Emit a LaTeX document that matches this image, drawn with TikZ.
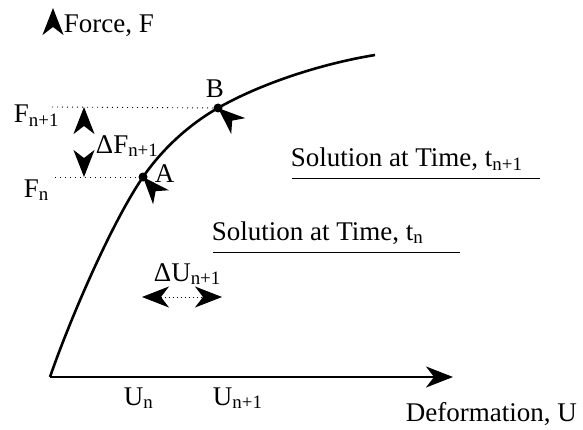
\documentclass[tikz,border=0pt]{standalone}
\usepackage{fontspec}
\setmainfont{Liberation Serif}
\usepackage{tikz}
\usetikzlibrary{arrows.meta}

\tikzset{
  lbl/.style={anchor=base west,inner sep=0pt},
  guide/.style={line width=.9pt,dash pattern=on 1pt off 4pt},
  tiponly/.style={dash pattern=on 0pt off 300pt},
}

\begin{document}
\begin{tikzpicture}[x=1pt,y=1pt,line width=1.8pt,font=\fontsize{27}{30}\selectfont,
  >={Stealth[length=27pt,width=21pt,inset=8pt]}]
\useasboundingbox (0,0) rectangle (583,429);
% points
\coordinate (O) at (50,52);
\coordinate (xend) at (453,52);
\coordinate (A) at (143,252);
\coordinate (B) at (218,321);
\coordinate (E) at (375,374);
% axes
\draw[->] (O)--(xend);
\coordinate (ytail) at (53,394);
\coordinate (ytip) at (53,421);
\draw[->,tiponly] (ytail)--(ytip);
% load-deformation curve
\draw[line width=2.6pt] (O)..controls (70,110) and (112,207)..(A)
  ..controls (163,281) and (190,305)..(B)
  ..controls (260,345) and (320,365)..(E);
\fill (A) circle (4.5pt) (B) circle (4.5pt);
% force levels
\coordinate (fa) at (55,252);
\coordinate (fb) at (52,322);
\draw[guide] (fa)--(A);
\draw[guide] (fb)--(B);
\coordinate (dFlo) at (84,252);
\coordinate (dFhi) at (84,322);
\draw[<->,tiponly] (dFlo)--(dFhi);
% marks at A and B
\coordinate (At) at (160.5,232.3);
\coordinate (Bt) at (238,303.2);
\draw[->,tiponly] (At)--(A);
\draw[->,tiponly] (Bt)--(B);
% deformation increment
\coordinate (dUl) at (142,132);
\coordinate (dUr) at (222,132);
\draw[<->,line width=.9pt,dash pattern=on 1pt off 3pt] (dUl)--(dUr);
% solution lines
\coordinate (s1a) at (292,251);
\coordinate (s1b) at (540,251);
\coordinate (s0a) at (213,177);
\coordinate (s0b) at (460,177);
\draw[line width=1pt] (s1a)--(s1b);
\draw[line width=1pt] (s0a)--(s0b);
% labels
\node[lbl] (force) at (63,396) {Force, F};
\node[lbl] (Fn1) at (13,306) {F\textsubscript{n+1}};
\node[lbl] (dF) at (95,276) {ΔF\textsubscript{n+1}};
\node[lbl] (Fn) at (23,232) {F\textsubscript{n}};
\node[lbl] (labA) at (154,247) {A};
\node[lbl] (labB) at (205,331) {B};
\node[lbl] (dU) at (153,148) {ΔU\textsubscript{n+1}};
\node[lbl] (Un) at (123,24) {U\textsubscript{n}};
\node[lbl] (Un1) at (212,24) {U\textsubscript{n+1}};
\node[lbl] (defo) at (405,8) {Deformation, U};
\node[lbl] (sol1) at (290,262) {Solution at Time, t\textsubscript{n+1}};
\node[lbl] (sol0) at (211,189) {Solution at Time, t\textsubscript{n}};
\end{tikzpicture}
\end{document}
